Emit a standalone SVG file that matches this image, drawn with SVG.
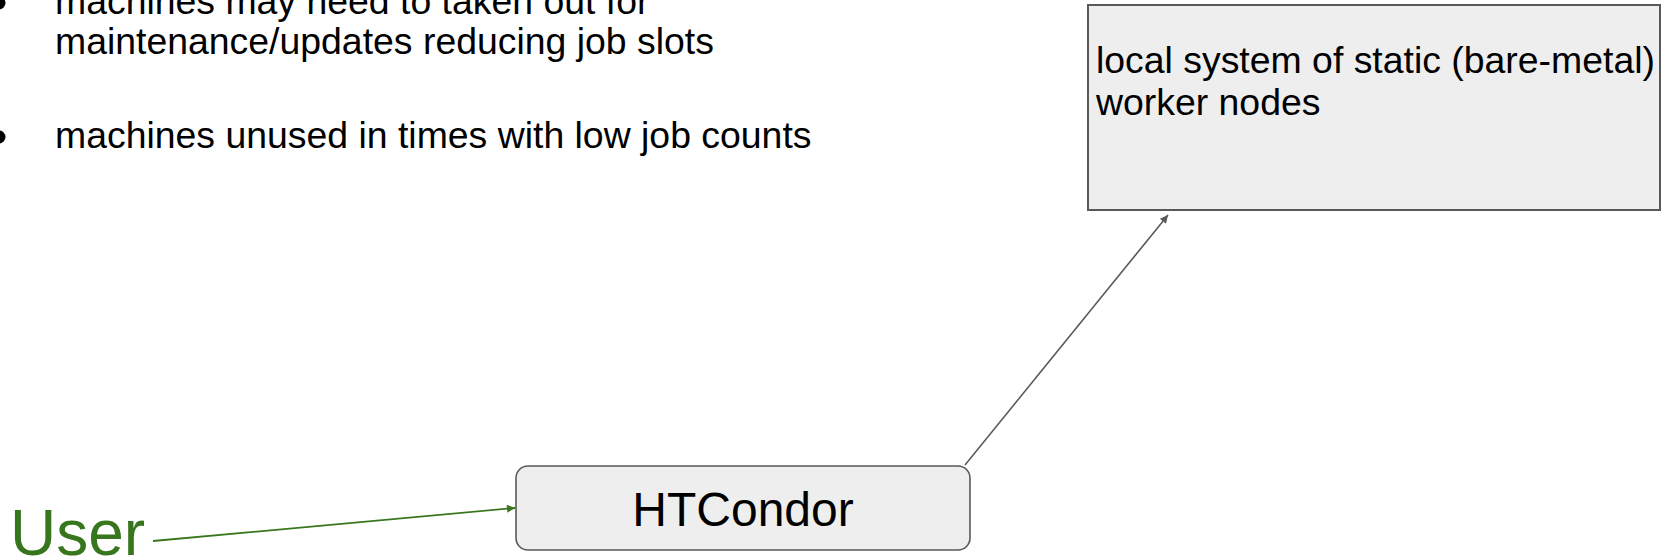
<svg xmlns="http://www.w3.org/2000/svg" width="1663" height="560" viewBox="0 0 1663 560">
<defs>
<style>
.t{font-family:"Liberation Sans",Arial,sans-serif;fill:#000}
.box{fill:#eeeeee;stroke:#595959;stroke-width:2}
.edge{fill:none;stroke:#595959;stroke-width:1.6}
.edgeg{fill:none;stroke:#38761d;stroke-width:1.8}
</style>
<marker id="ah" viewBox="0 0 10 10" refX="10" refY="5" markerWidth="11" markerHeight="8" markerUnits="userSpaceOnUse" orient="auto"><path d="M0,0 L10,5 L0,10 z" fill="#595959"/></marker>
<marker id="ahg" viewBox="0 0 10 10" refX="10" refY="5" markerWidth="11" markerHeight="8" markerUnits="userSpaceOnUse" orient="auto"><path d="M0,0 L10,5 L0,10 z" fill="#38761d"/></marker>
</defs>
<rect width="1663" height="560" fill="#ffffff"/>
<g id="bullets">
<circle cx="-1" cy="3" r="6.5" fill="#000"/>
<text class="t" x="55" y="14" font-size="37.4">machines may need to taken out for</text>
<text class="t" x="55" y="54" font-size="37.4">maintenance/updates reducing job slots</text>
<circle cx="-1" cy="137" r="6.5" fill="#000"/>
<text class="t" x="55" y="148" font-size="37.4">machines unused in times with low job counts</text>
</g>
<g id="connectors">
<line class="edgeg" x1="153" y1="541" x2="515" y2="508" marker-end="url(#ahg)"/>
<line class="edge" x1="965" y1="465" x2="1168" y2="215" marker-end="url(#ah)"/>
</g>
<g id="worker-nodes">
<rect class="box" x="1088" y="5" width="572" height="205"/>
<text class="t" x="1096" y="73" font-size="37.4">local system of static (bare-metal)</text>
<text class="t" x="1096" y="115" font-size="37.4">worker nodes</text>
</g>
<g id="htcondor">
<rect class="box" x="516" y="466" width="454" height="84" rx="12" ry="12" style="stroke-width:1.6"/>
<text class="t" x="743" y="526" font-size="48" text-anchor="middle">HTCondor</text>
</g>
<g id="user">
<text x="10" y="555" font-size="64" font-family="Liberation Sans, Arial, sans-serif" fill="#38761d">User</text>
</g>
</svg>
